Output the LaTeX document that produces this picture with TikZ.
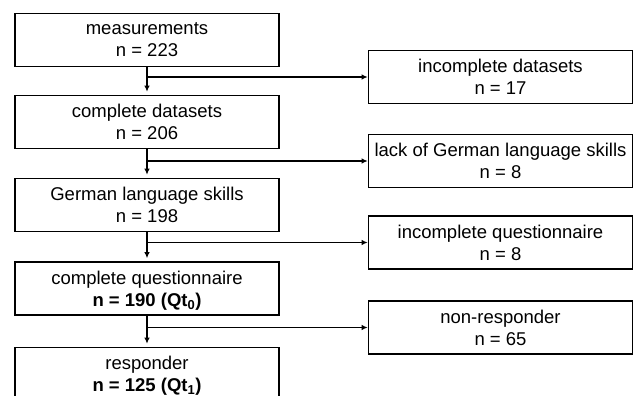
\documentclass[tikz,border=0pt]{standalone}
\usepackage{fontspec}
\setmainfont{Liberation Sans}
\usepackage{tikz}
\usetikzlibrary{arrows.meta,positioning}

\begin{document}
\begin{tikzpicture}[x=1pt,y=-1pt,
    box/.style={draw,line width=1.6pt,minimum width=264pt,minimum height=53pt,
      inner sep=0pt,text depth=0pt,align=center,font=\fontsize{18.5}{22}\selectfont},
    flow/.style={line width=1.6pt,-{Latex[length=6pt,width=5.5pt]}}]
    \clip (0,0) rectangle (633,396);
    \node[box] (meas)  at (147,40)    {measurements\\n = 223};
    \node[box] (compl) at (147,122)   {complete datasets\\n = 206};
    \node[box] (germ)  at (147,205)   {German language skills\\n = 198};
    \node[box] (quest) at (147,288.5) {complete questionnaire\\\textbf{n = 190 (Qt\textsubscript{0})}};
    \node[box] (resp)  at (147,374)   {responder\\\textbf{n = 125 (Qt\textsubscript{1})}};
    \node[box] (incds) at (500.5,77)  {incomplete datasets\\n = 17};
    \node[box] (lack)  at (500.5,161) {lack of German language skills\\n = 8};
    \node[box] (incq)  at (500.5,242.5) {incomplete questionnaire\\n = 8};
    \node[box] (nonr)  at (500.5,327.5) {non-responder\\n = 65};
    \path[flow]
    % main edges
    (meas)  edge [shorten >=3pt] (compl)
    (compl) edge [shorten >=3pt] (germ)
    (germ)  edge [shorten >=3pt] (quest)
    (quest) edge [shorten >=3pt] (resp)
    % branch edges
    (meas.south  |- incds.west) edge (incds)
    (compl.south |- lack.west)  edge (lack)
    (germ.south  |- incq.west)  edge (incq)
    (quest.south |- nonr.west)  edge (nonr);
\end{tikzpicture}
\end{document}
